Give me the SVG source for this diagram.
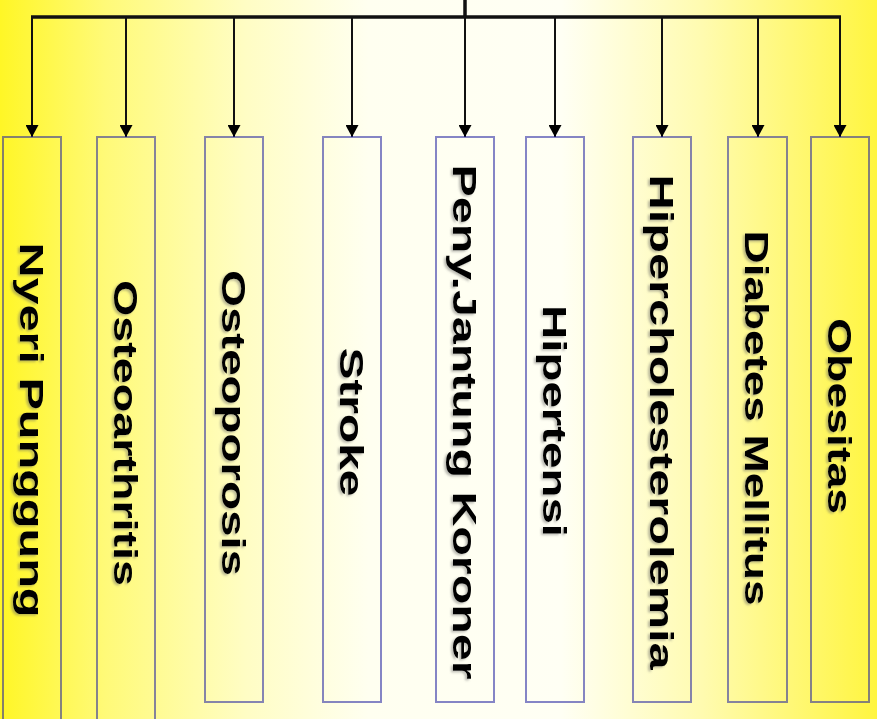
<svg xmlns="http://www.w3.org/2000/svg" width="877" height="719" viewBox="0 0 877 719">
<defs>
<linearGradient id="bg" x1="0" y1="0" x2="1" y2="0">
<stop offset="0" stop-color="#fff626"/>
<stop offset="0.12" stop-color="#fffa78"/>
<stop offset="0.28" stop-color="#fffdc4"/>
<stop offset="0.42" stop-color="#fffff0"/>
<stop offset="0.64" stop-color="#fffff4"/>
<stop offset="0.8" stop-color="#fffbb0"/>
<stop offset="1" stop-color="#fff540"/>
</linearGradient>
<marker id="ah" viewBox="0 0 12 13" refX="12" refY="6.5" markerWidth="12" markerHeight="13" markerUnits="userSpaceOnUse" orient="auto">
<path d="M0,0 L12,6.5 L0,13 Z" fill="#000"/>
</marker>
<filter id="sh" x="-20%" y="-5%" width="140%" height="110%">
<feDropShadow dx="-2" dy="1.5" stdDeviation="1.2" flood-color="#666" flood-opacity="0.45"/>
</filter>
</defs>
<style>
.box{fill:none;stroke:#2020a0;stroke-opacity:0.55;stroke-width:2}
.lbl{font-family:"Liberation Sans",Arial,sans-serif;font-weight:bold;font-size:34px;fill:#000;text-anchor:middle}
.wire{stroke:#111;stroke-width:2;fill:none}
.bus{stroke:#111;stroke-width:3.5;fill:none}
</style>
<rect x="0" y="0" width="877" height="719" fill="url(#bg)"/>
<g id="connectors">
<line class="bus" x1="465" y1="0" x2="465" y2="17"/>
<line class="bus" x1="31" y1="17" x2="841" y2="17"/>
<line class="wire" x1="32" y1="17" x2="32" y2="137" marker-end="url(#ah)"/>
<line class="wire" x1="126" y1="17" x2="126" y2="137" marker-end="url(#ah)"/>
<line class="wire" x1="234" y1="17" x2="234" y2="137" marker-end="url(#ah)"/>
<line class="wire" x1="352" y1="17" x2="352" y2="137" marker-end="url(#ah)"/>
<line class="wire" x1="465" y1="17" x2="465" y2="137" marker-end="url(#ah)"/>
<line class="wire" x1="555" y1="17" x2="555" y2="137" marker-end="url(#ah)"/>
<line class="wire" x1="662" y1="17" x2="662" y2="137" marker-end="url(#ah)"/>
<line class="wire" x1="758" y1="17" x2="758" y2="137" marker-end="url(#ah)"/>
<line class="wire" x1="840" y1="17" x2="840" y2="137" marker-end="url(#ah)"/>
</g>
<g id="node-nyeri">
<rect class="box" x="3" y="137" width="58" height="592"/>
<g filter="url(#sh)"><text class="lbl" transform="translate(32,430) rotate(90)" y="12" textLength="375" lengthAdjust="spacingAndGlyphs">Nyeri Punggung</text></g>
</g>
<g id="node-osteoarthritis">
<rect class="box" x="97" y="137" width="58" height="592"/>
<g filter="url(#sh)"><text class="lbl" transform="translate(126,433) rotate(90)" y="12" textLength="306" lengthAdjust="spacingAndGlyphs">Osteoarthritis</text></g>
</g>
<g id="node-osteoporosis">
<rect class="box" x="205" y="137" width="58" height="565"/>
<g filter="url(#sh)"><text class="lbl" transform="translate(234,423) rotate(90)" y="12" textLength="306" lengthAdjust="spacingAndGlyphs">Osteoporosis</text></g>
</g>
<g id="node-stroke">
<rect class="box" x="323" y="137" width="58" height="565"/>
<g filter="url(#sh)"><text class="lbl" transform="translate(352,422) rotate(90)" y="12" textLength="149" lengthAdjust="spacingAndGlyphs">Stroke</text></g>
</g>
<g id="node-jantung">
<rect class="box" x="436" y="137" width="58" height="565"/>
<g filter="url(#sh)"><text class="lbl" transform="translate(465,422) rotate(90)" y="12" textLength="515" lengthAdjust="spacingAndGlyphs">Peny.Jantung Koroner</text></g>
</g>
<g id="node-hipertensi">
<rect class="box" x="526" y="137" width="58" height="565"/>
<g filter="url(#sh)"><text class="lbl" transform="translate(555,421) rotate(90)" y="12" textLength="232" lengthAdjust="spacingAndGlyphs">Hipertensi</text></g>
</g>
<g id="node-hiperkolesterol">
<rect class="box" x="633" y="137" width="58" height="565"/>
<g filter="url(#sh)"><text class="lbl" transform="translate(662,422) rotate(90)" y="12" textLength="495" lengthAdjust="spacingAndGlyphs">Hipercholesterolemia</text></g>
</g>
<g id="node-diabetes">
<rect class="box" x="728" y="137" width="59" height="565"/>
<g filter="url(#sh)"><text class="lbl" transform="translate(757,418) rotate(90)" y="12" textLength="375" lengthAdjust="spacingAndGlyphs">Diabetes Mellitus</text></g>
</g>
<g id="node-obesitas">
<rect class="box" x="811" y="137" width="58" height="565"/>
<g filter="url(#sh)"><text class="lbl" transform="translate(840,416) rotate(90)" y="12" textLength="196" lengthAdjust="spacingAndGlyphs">Obesitas</text></g>
</g>
</svg>
